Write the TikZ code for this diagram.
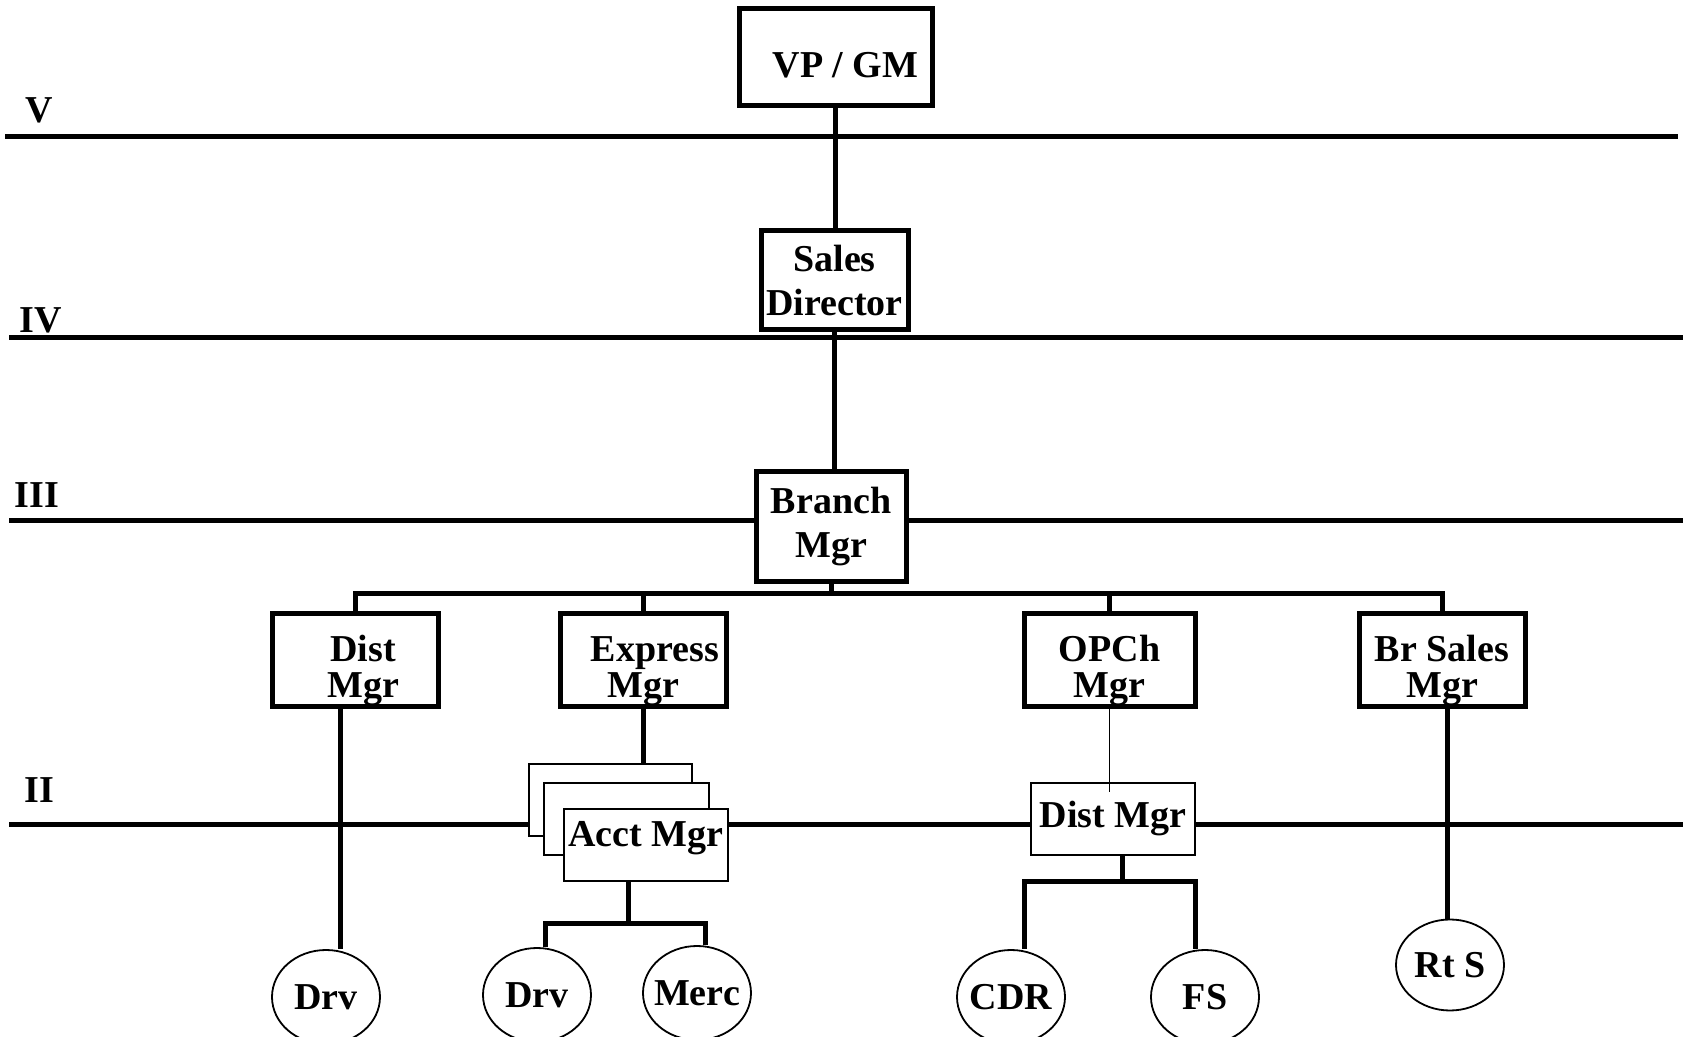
\documentclass[tikz,border=0pt]{standalone}
\usepackage{fontspec}
\setmainfont{Liberation Serif}
\usetikzlibrary{positioning,shapes.geometric}
\newcommand{\orgfont}{\bfseries\fontsize{19}{22}\selectfont}
\newcommand{\mgrfont}{\bfseries\fontsize{19}{18}\selectfont}

\begin{document}
\begin{tikzpicture}[
  x=0.5pt, y=-0.5pt,
  box/.style={draw, line width=2.5pt, fill=white, align=center, font=\orgfont, inner sep=0pt},
  mgr/.style={box, font=\mgrfont, minimum width=83pt, minimum height=46.5pt, text height=41pt, text depth=4.2pt},
  tbox/.style={draw, line width=0.9pt, fill=white, align=center, font=\orgfont, inner sep=0pt, minimum width=82pt, minimum height=36pt},
  oval/.style={draw, ellipse, line width=0.9pt, fill=white, font=\orgfont, inner sep=0pt, inner xsep=-6pt, minimum width=54pt, minimum height=47pt},
  lvl/.style={font=\orgfont},
  tier/.style={line width=2.5pt},
  conn/.style={line width=2.5pt},
  hair/.style={line width=0.9pt}
]
  \useasboundingbox (0,0) rectangle (1683,1037);

  % level rules
  \draw[tier] (5,137) -- (1678,137);
  \draw[tier] (9,338) -- (1683,338);
  \draw[tier] (9,521) -- (1683,521);
  \draw[tier] (9,824) -- (1683,824);
  \node[lvl] (lV) at (39,110) {V};
  \node[lvl] (lIV) at (41,320) {IV};
  \node[lvl] (lIII) at (37,495) {III};
  \node[lvl] (lII) at (39.5,790) {II};

  % top of the chart
  \node[box, minimum width=96.5pt, minimum height=48.5pt, text height=20pt, text depth=0pt] (vp) at (835.5,57.5) {\hspace*{10pt}VP / GM};
  \node[box, minimum width=73.5pt, minimum height=49.5pt] (sd) at (834.5,280.5) {Sales\\Director};
  \node[box, minimum width=75pt, minimum height=55pt] (bm) at (831,527) {Branch\\Mgr};

  % managers under the branch
  \node[mgr] (dist) at (355,660.5) {\hspace*{8pt}Dist\\\hspace*{8pt}Mgr};
  \node[mgr] (exp) at (643,660.5) {\hspace*{12pt}Express\\Mgr};
  \node[mgr, minimum width=85.5pt] (opch) at (1109.5,660.5) {OPCh\\Mgr};
  \node[mgr] (brs) at (1442,660.5) {Br Sales\\Mgr};

  % stacked account managers, and the second dist mgr
  \node[tbox, minimum width=81.5pt] (acctA) at (610.5,800) {};
  \node[tbox, minimum width=82.5pt] (acctB) at (626.5,819) {};
  \node[tbox, text height=12.6pt, text depth=11.6pt] (acctC) at (646,845) {Acct Mgr};
  \node[tbox] (dm2) at (1113,819) {Dist Mgr};

  % bottom row
  \node[oval] (drvA) at (326,997) {Drv};
  \node[oval] (drvB) at (537,995) {Drv};
  \node[oval] (merc) at (697,993) {Merc};
  \node[oval] (cdr) at (1011,997) {CDR};
  \node[oval] (fs) at (1205,997) {FS};
  \node[oval, minimum height=45.5pt] (rts) at (1450,965) {Rt S};

  \draw[conn] (vp.south) -- (vp.south |- sd.north);
  \draw[conn] (sd.south) -- (sd.south |- bm.north);
  \coordinate (bus) at (829,594);
  \draw[conn] (bm.south) -- (bm.south |- bus);
  \draw[conn] (dist.north) |- (bus) -| (brs.north);
  \draw[conn] (exp.north) -- (exp.north |- bus);
  \draw[conn] (opch.north) -- (opch.north |- bus);

  \draw[conn] ([xshift=-7.5pt]dist.south) -- ([xshift=7pt]drvA.north);

  \draw[conn] (exp.south) -- (exp.south |- acctA.north);
  \coordinate (acbus) at (628,923);
  \draw[conn] (acbus |- acctC.south) -- (acbus);
  \draw[conn] ([xshift=4pt]drvB.north) |- (acbus) -| ([xshift=4pt]merc.north);

  \draw[hair] (opch.south) -- ([yshift=-5pt]opch.south |- dm2.north);
  \coordinate (dmbus) at (1122,881);
  \draw[conn] (dmbus |- dm2.south) -- (dmbus);
  \draw[conn] ([xshift=6.5pt]cdr.north) |- (dmbus) -| ([xshift=-5pt]fs.north);

  \draw[conn] ([xshift=2.5pt]brs.south) -- ([xshift=-1.5pt]rts.north);
\end{tikzpicture}
\end{document}
